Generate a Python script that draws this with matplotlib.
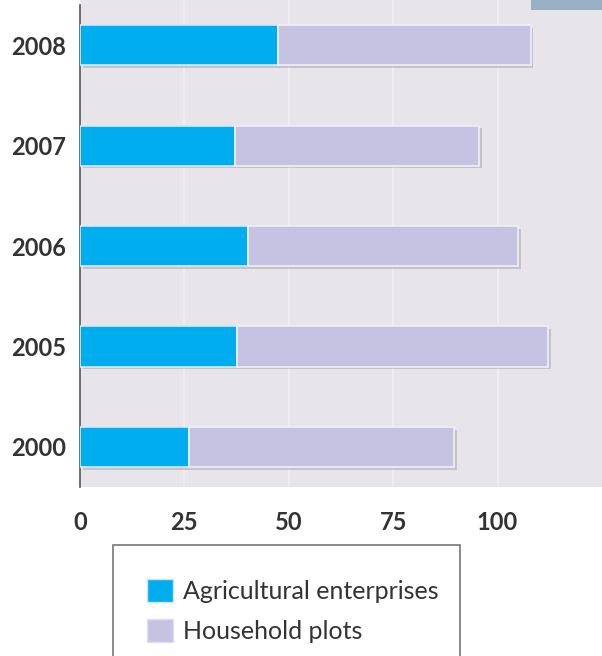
import matplotlib
matplotlib.use("Agg")
import matplotlib.pyplot as plt
from matplotlib.patches import Rectangle, Patch
import matplotlib.patheffects as pe

years = ["2000", "2005", "2006", "2007", "2008"]
agri = [26.2, 37.6, 40.2, 37.1, 47.4]
household = [63.3, 74.5, 64.8, 58.4, 60.5]
xticks = [0, 25, 50, 75, 100]
labels = ["Agricultural enterprises", "Household plots"]

blue = "#00aeef"
lav = "#c5c3e1"
bg = "#e7e4ea"

plt.rcParams['font.family'] = ['Lato', 'DejaVu Sans']

fig = plt.figure(figsize=(6.02, 6.56), dpi=100)
ax = fig.add_axes([80/602, 1-487/656, 1-80/602, 487/656])
ax.set_facecolor(bg)

ypos = list(range(len(years)))
shadow = [pe.SimplePatchShadow(offset=(2, -2), shadow_rgbFace="#888888", alpha=0.35), pe.Normal()]
b1 = ax.barh(ypos, agri, height=0.4, color=blue, edgecolor="#d8e8f6", linewidth=1.2, zorder=3)
b2 = ax.barh(ypos, household, left=agri, height=0.4, color=lav, edgecolor="#f0eff8", linewidth=1.2, zorder=3)
for b in list(b1) + list(b2):
    b.set_path_effects(shadow)

ax.set_xlim(0, 125)
ax.set_ylim(-0.4, 4.45)
ax.set_xticks(xticks)
ax.set_xticklabels([str(t) for t in xticks])
ax.set_yticks(ypos)
ax.set_yticklabels(years)
ax.tick_params(length=0, labelsize=17, labelcolor="#333333")
ax.tick_params(axis='x', pad=17)
ax.tick_params(axis='y', pad=10)
for lab in ax.get_xticklabels() + ax.get_yticklabels():
    lab.set_fontweight("bold")
ax.grid(axis='x', color="#f2f0f4", linewidth=1.2, zorder=0)
for s in ["top", "right", "bottom"]:
    ax.spines[s].set_visible(False)
ax.spines["left"].set_color("#555555")
ax.spines["left"].set_linewidth(1.2)
ax.spines["left"].set_bounds(-0.4, 4.4)

# decorative top-right bar
fig.patches.append(Rectangle((531/602, 1-10/656), 71/602, 10/656, transform=fig.transFigure,
                             facecolor="#9ab0c4", edgecolor="none", zorder=5))

# legend frame
fig.patches.append(Rectangle((113/602, -0.02), (460-113)/602, 0.02 + (656-545)/656, transform=fig.transFigure,
                             facecolor="white", edgecolor="#777777", linewidth=1.2))
handles = [Patch(facecolor=blue, edgecolor="#cfe3f3", label=labels[0]),
           Patch(facecolor=lav, edgecolor="#e0dff0", label=labels[1])]
leg = fig.legend(handles=handles, loc="upper left", bbox_to_anchor=(124/602, 1-556/656),
                 frameon=False, fontsize=18, handlelength=1.05, handleheight=1.05,
                 handletextpad=0.4, labelspacing=0.65, labelcolor="#333333")

fig.savefig("out.png", dpi=100, facecolor="white")
